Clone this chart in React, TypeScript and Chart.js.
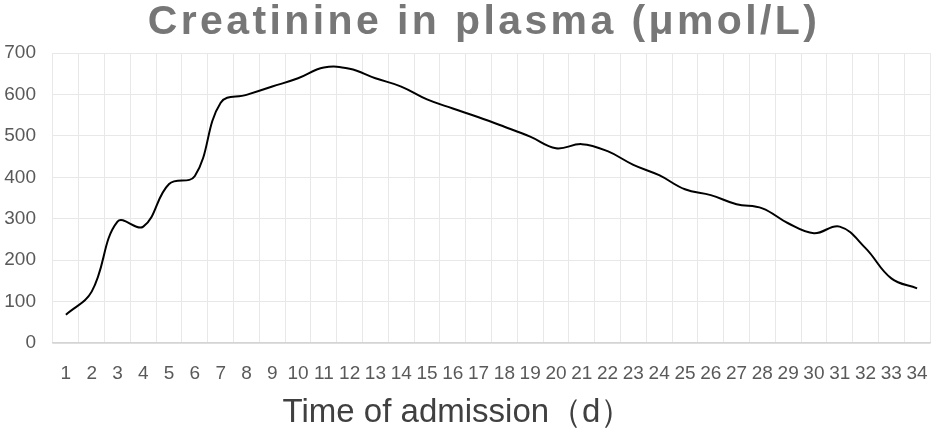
import React, { useEffect, useRef } from "react";
import { Chart, registerables } from "chart.js";

Chart.register(...registerables);

const days: string[] = [
  "1", "2", "3", "4", "5", "6", "7", "8", "9", "10", "11", "12", "13", "14", "15", "16", "17",
  "18", "19", "20", "21", "22", "23", "24", "25", "26", "27", "28", "29", "30", "31", "32", "33", "34",
];

const creatinine: number[] = [
  68, 124, 293, 281, 384, 403, 580, 599, 619, 639, 665, 662, 639, 619, 588, 566, 545,
  522, 498, 470, 480, 463, 430, 405, 371, 357, 335, 325, 289, 265, 281, 229, 156, 132,
];

const yTicks: number[] = [0, 100, 200, 300, 400, 500, 600, 700];

const chartTitle = "Creatinine in plasma (μmol/L)";
const xAxisTitle = "Time of admission（d）";

const FONT = '"Liberation Sans", Arial, Helvetica, sans-serif';

const titlesPlugin = {
  id: "customTitles",
  afterDraw(chart: any) {
    const ctx = chart.ctx as CanvasRenderingContext2D;
    ctx.save();
    (ctx as any).letterSpacing = "3.4px";
    ctx.font = `bold 41px ${FONT}`;
    ctx.fillStyle = "#777777";
    ctx.textAlign = "center";
    ctx.textBaseline = "alphabetic";
    ctx.fillText(chartTitle, 484, 34);
    (ctx as any).letterSpacing = "0px";
    ctx.font = `33px ${FONT}`;
    ctx.fillStyle = "#404040";
    ctx.fillText(xAxisTitle, 458, 422);
    ctx.restore();
  },
};

export default function App() {
  const ref = useRef<HTMLCanvasElement | null>(null);

  useEffect(() => {
    if (!ref.current) return;
    const chart = new Chart(ref.current, {
      type: "line",
      data: {
        labels: days,
        datasets: [
          {
            label: "Creatinine",
            data: creatinine,
            borderColor: "#000000",
            borderWidth: 2,
            pointRadius: 0,
            tension: 0.4,
            fill: false,
          },
        ],
      },
      options: {
        responsive: false,
        animation: false,
        layout: { padding: { top: 53, right: 5, bottom: 0, left: 0 } },
        plugins: {
          legend: { display: false },
          title: { display: false },
          tooltip: { enabled: false },
        },
        scales: {
          x: {
            offset: true,
            grid: { offset: true, color: "#e8e8e8", drawTicks: false, lineWidth: 1 },
            border: { color: "#d4d4d4", width: 1.5 },
            ticks: {
              autoSkip: false,
              maxRotation: 0,
              minRotation: 0,
              padding: 19,
              color: "#595959",
              font: { family: FONT, size: 19 },
            },
            afterFit(scale: any) {
              scale.height = 91;
              scale.paddingLeft = 0;
              scale.paddingRight = 0;
            },
          },
          y: {
            min: 0,
            max: 700,
            afterBuildTicks(scale: any) {
              scale.ticks = yTicks.map((v) => ({ value: v }));
            },
            grid: { color: "#e8e8e8", drawTicks: false },
            border: { display: false },
            ticks: {
              stepSize: 100,
              padding: 17,
              color: "#595959",
              font: { family: FONT, size: 19 },
            },
            afterFit(scale: any) {
              scale.width = 53;
            },
          },
        },
      },
      plugins: [titlesPlugin],
    });
    return () => chart.destroy();
  }, []);

  return (
    <div style={{ position: "absolute", left: 0, top: 0, width: 935, height: 434, background: "#ffffff" }}>
      <canvas ref={ref} width={935} height={434} />
    </div>
  );
}
